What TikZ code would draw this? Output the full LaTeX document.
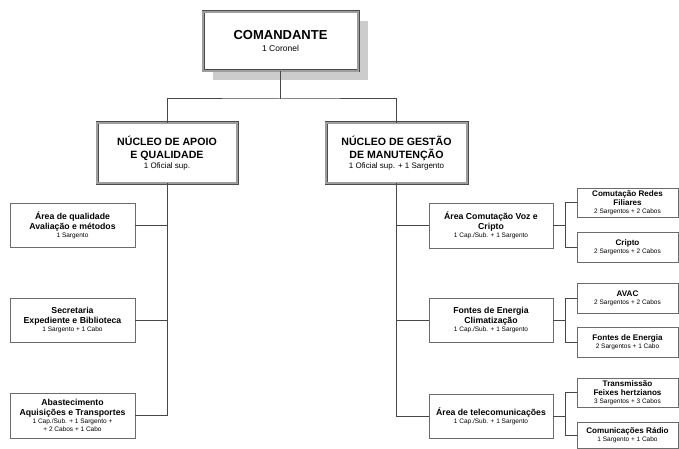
\documentclass[tikz,border=0pt]{standalone}
\usepackage{fontspec}
\setmainfont{Liberation Sans}
\newcommand{\subtxt}[1]{{\fontsize{6.5}{7.5}\selectfont\mdseries #1}}
\begin{document}
\begin{tikzpicture}[x=1pt, y=-1pt,
  line/.style={draw=black!72, line width=1pt},
  frame/.style={draw=black!70, line width=0.6pt, double=black!38, double distance=1.8pt,
    fill=white, inner sep=0pt, align=center},
  unitbox/.style={draw=black!58, line width=0.8pt, fill=white, inner sep=0pt, align=center,
    font=\fontsize{8.7}{10}\selectfont\bfseries},
  leafbox/.style={draw=black!58, line width=0.8pt, fill=white, inner sep=0pt, align=center,
    minimum width=101pt, font=\fontsize{8.1}{9.5}\selectfont\bfseries},
  shade/.style={fill=black!20, draw=none}
]
\useasboundingbox (0,0) rectangle (679,449);

% top command with its drop shadow
\fill[shade] (213,21) rectangle (368,80);
\node[frame, minimum width=155pt, minimum height=59pt,
  font=\fontsize{13}{15}\selectfont\bfseries] (cmd) at (280.5,41.5)
  {COMANDANTE\\[-3pt]{\fontsize{8.5}{10}\selectfont\mdseries 1 Coronel}};

% the two main cores
\node[frame, minimum width=140pt, minimum height=60pt,
  font=\fontsize{10.6}{13}\selectfont\bfseries] (apoio) at (167,153)
  {NÚCLEO DE APOIO\\E QUALIDADE\\[-2.5pt]{\fontsize{8}{9}\selectfont\mdseries 1 Oficial sup.}};
\node[frame, minimum width=141pt, minimum height=60pt,
  font=\fontsize{10.6}{13}\selectfont\bfseries] (gestao) at (396.5,153)
  {NÚCLEO DE GESTÃO\\DE MANUTENÇÃO\\[-2.5pt]{\fontsize{8}{9}\selectfont\mdseries 1 Oficial sup. + 1 Sargento}};

% left column
\node[unitbox, minimum width=125pt, minimum height=44pt] (qual) at (72.5,225)
  {Área de qualidade\\Avaliação e métodos\\[-2pt]\subtxt{1 Sargento}};
\node[unitbox, minimum width=125pt, minimum height=44pt] (secr) at (72.5,320)
  {Secretaria\\Expediente e Biblioteca\\[-2pt]\subtxt{1 Sargento + 1 Cabo}};
\node[unitbox, minimum width=125pt, minimum height=45pt] (abast) at (72.5,415.5)
  {Abastecimento\\Aquisições e Transportes\\[-2pt]\subtxt{1 Cap./Sub. + 1 Sargento +}\\[-2.5pt]\subtxt{+ 2 Cabos + 1 Cabo}};

% right column
\node[unitbox, minimum width=124pt, minimum height=45pt] (comut) at (491,225.5)
  {Área Comutação Voz e\\Cripto\\[-2pt]\subtxt{1 Cap./Sub. + 1 Sargento}};
\node[unitbox, minimum width=124pt, minimum height=44pt] (fontes) at (491,320)
  {Fontes de Energia\\Climatização\\[-2pt]\subtxt{1 Cap./Sub. + 1 Sargento}};
\node[unitbox, minimum width=124pt, minimum height=44pt] (telec) at (491,416)
  {Área de telecomunicações\\[-2pt]\subtxt{1 Cap./Sub. + 1 Sargento}};

% sections under each area
\node[leafbox, minimum height=29pt] (redes) at (627.5,202.5)
  {Comutação Redes\\Filiares\\[-1.5pt]\subtxt{2 Sargentos + 2 Cabos}};
\node[leafbox, minimum height=30pt] (cripto) at (627.5,247)
  {Cripto\\[-1.5pt]\subtxt{2 Sargentos + 2 Cabos}};
\node[leafbox, minimum height=30pt] (avac) at (627.5,298)
  {AVAC\\[-1.5pt]\subtxt{2 Sargentos + 2 Cabos}};
\node[leafbox, minimum height=30pt] (fenerg) at (627.5,342)
  {Fontes de Energia\\[-1.5pt]\subtxt{2 Sargentos + 1 Cabo}};
\node[leafbox, minimum height=29pt] (transm) at (627.5,392.5)
  {Transmissão\\Feixes hertzianos\\[-1.5pt]\subtxt{3 Sargentos + 3 Cabos}};
\node[leafbox, minimum height=26pt] (radio) at (627.5,435)
  {Comunicações Rádio\\[-1.5pt]\subtxt{1 Sargento + 1 Cabo}};

% connectors
\coordinate (bus) at (280.5,99);
\path[line] (cmd.south) -- (bus);
\path[line] (apoio.north) |- (bus) -| (gestao.north);
\path[line] (apoio.south) |- (qual.east);
\path[line] (apoio.south) |- (secr.east);
\path[line] (apoio.south) |- (abast.east);
\path[line] (gestao.south) |- (comut.west);
\path[line] (gestao.south) |- (fontes.west);
\path[line] (gestao.south) |- (telec.west);
\path[line] (comut.east) -- ++(12,0) |- (redes.west);
\path[line] (comut.east) -- ++(12,0) |- (cripto.west);
\path[line] (fontes.east) -- ++(12,0) |- (avac.west);
\path[line] (fontes.east) -- ++(12,0) |- (fenerg.west);
\path[line] (telec.east) -- ++(12,0) |- (transm.west);
\path[line] (telec.east) -- ++(12,0) |- (radio.west);
\end{tikzpicture}
\end{document}
